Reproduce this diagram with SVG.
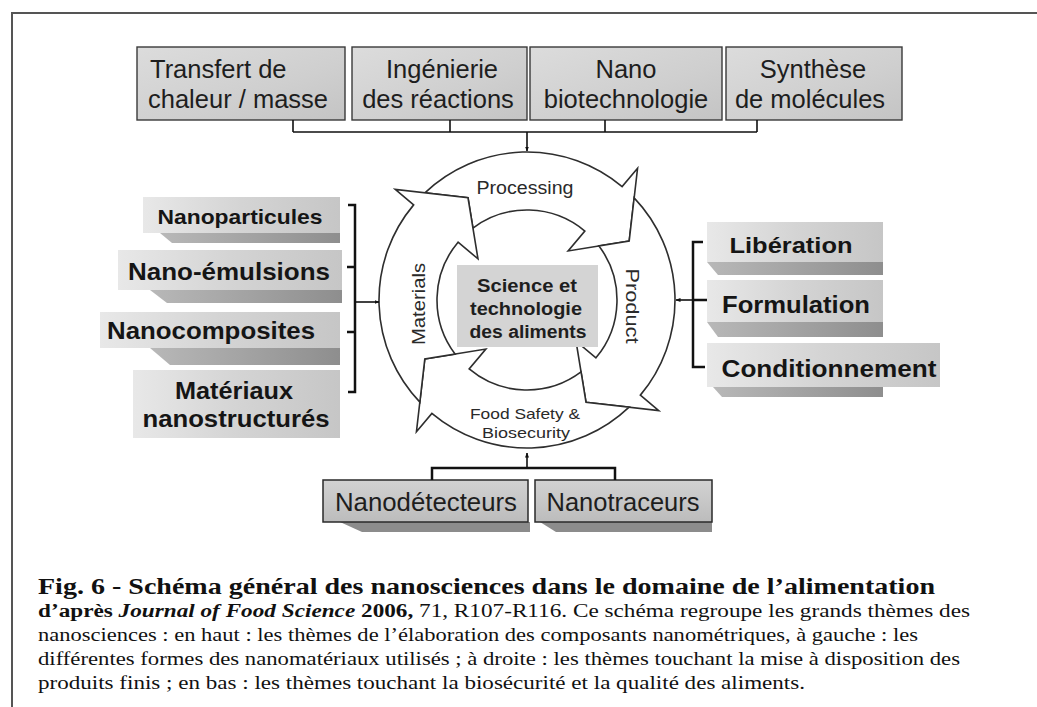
<svg xmlns="http://www.w3.org/2000/svg" width="1037" height="707" viewBox="0 0 1037 707">
<style>
.bg{fill:#ffffff}
.frame{fill:none;stroke:#555;stroke-width:2}
.topbox{fill:url(#gTop);stroke:#3a3a3a;stroke-width:1.4}
.tt{font-family:"Liberation Sans",Arial,sans-serif;font-size:25.5px;fill:#1e1e1e}
.side{fill:url(#gSide)}
.band{fill:url(#gBand)}
.st{font-family:"Liberation Sans",Arial,sans-serif;font-weight:bold;font-size:21px;fill:#151515}
.botbox{fill:url(#gBot);stroke:#2a2a2a;stroke-width:1.5}
.bshadow{fill:#8c8c8c}
.bt{font-family:"Liberation Sans",Arial,sans-serif;font-size:25px;fill:#1e1e1e}
.ring{fill:#ffffff;stroke:#2e2e2e;stroke-width:1.6;stroke-linejoin:miter}
.rl{font-family:"Liberation Sans",Arial,sans-serif;font-size:18px;fill:#2a2a2a}
.ct{font-family:"Liberation Sans",Arial,sans-serif;font-weight:bold;font-size:18px;fill:#1e1e1e}
.conn{fill:none;stroke:#111;stroke-width:2.5}
.thin{fill:none;stroke:#111;stroke-width:1.6}
.cap{font-family:"Liberation Serif","Times New Roman",serif;fill:#111}
</style>
<defs>
<linearGradient id="gTop" x1="0" y1="0" x2="1" y2="1">
<stop offset="0" stop-color="#dcdcdc"/><stop offset="0.6" stop-color="#cfcfcf"/><stop offset="1" stop-color="#c4c4c4"/>
</linearGradient>
<linearGradient id="gSide" x1="0" y1="0" x2="1" y2="0">
<stop offset="0" stop-color="#e8e8e8"/><stop offset="0.5" stop-color="#d4d4d4"/><stop offset="1" stop-color="#c6c6c6"/>
</linearGradient>
<linearGradient id="gBand" x1="0" y1="0" x2="1" y2="0">
<stop offset="0" stop-color="#b8b8b8"/><stop offset="1" stop-color="#8e8e8e"/>
</linearGradient>
<linearGradient id="gBot" x1="0" y1="0" x2="0" y2="1">
<stop offset="0" stop-color="#d2d2d2"/><stop offset="1" stop-color="#bcbcbc"/>
</linearGradient>
<marker id="ah" viewBox="0 0 10 10" refX="9" refY="5" markerWidth="5" markerHeight="5" orient="auto" markerUnits="userSpaceOnUse">
<path d="M0,1 L10,5 L0,9 Z" fill="#111"/>
</marker>
</defs>
<rect class="bg" x="0" y="0" width="1037" height="707"/>
<path class="frame" d="M1037,13 H12 V707"/>

<g id="top-transfert"><rect class="topbox" x="137" y="47" width="208" height="73"/><text class="tt" x="150" y="78">Transfert de</text><text class="tt" x="148" y="108">chaleur / masse</text></g>
<g id="top-ingenierie"><rect class="topbox" x="352" y="47" width="175" height="73"/><text class="tt" x="442" y="78" text-anchor="middle">Ingénierie</text><text class="tt" x="438" y="108" text-anchor="middle">des réactions</text></g>
<g id="top-nano"><rect class="topbox" x="530" y="47" width="192" height="73"/><text class="tt" x="626" y="78" text-anchor="middle">Nano</text><text class="tt" x="626" y="108" text-anchor="middle">biotechnologie</text></g>
<g id="top-synthese"><rect class="topbox" x="726" y="47" width="176" height="73"/><text class="tt" x="813" y="78" text-anchor="middle">Synthèse</text><text class="tt" x="810" y="108" text-anchor="middle">de molécules</text></g>

<g id="left-nanoparticules"><rect class="side" x="143" y="197" width="197" height="36"/><polygon class="band" points="160,233 340,233 340,243 172,243"/><text class="st" x="240" y="224" text-anchor="middle" textLength="165" lengthAdjust="spacingAndGlyphs">Nanoparticules</text></g>
<g id="left-nanoemulsions"><rect class="side" x="118" y="250" width="224" height="40"/><polygon class="band" points="150,290 342,290 342,303 167,303"/><text class="st" x="229" y="280" text-anchor="middle" textLength="202" lengthAdjust="spacingAndGlyphs" style="font-size:23px">Nano-émulsions</text></g>
<g id="left-nanocomposites"><rect class="side" x="100" y="312" width="240" height="36"/><polygon class="band" points="150,348 340,348 340,365 170,365"/><text class="st" x="211" y="339" text-anchor="middle" textLength="208" lengthAdjust="spacingAndGlyphs" style="font-size:23px">Nanocomposites</text></g>
<g id="left-materiaux"><rect class="side" x="133" y="370" width="207" height="68"/><text class="st" x="234" y="399" text-anchor="middle" textLength="118" lengthAdjust="spacingAndGlyphs" style="font-size:23px">Matériaux</text><text class="st" x="236" y="427" text-anchor="middle" textLength="187" lengthAdjust="spacingAndGlyphs" style="font-size:23px">nanostructurés</text></g>

<g id="right-liberation"><rect class="side" x="707" y="222" width="176" height="40"/><polygon class="band" points="707,262 883,262 883,275 718,275"/><text class="st" x="791" y="253" text-anchor="middle" textLength="123" lengthAdjust="spacingAndGlyphs" style="font-size:22px">Libération</text></g>
<g id="right-formulation"><rect class="side" x="707" y="280" width="176" height="42"/><polygon class="band" points="707,322 883,322 883,337 718,337"/><text class="st" x="796" y="313" text-anchor="middle" textLength="148" lengthAdjust="spacingAndGlyphs" style="font-size:23px">Formulation</text></g>
<g id="right-conditionnement"><rect class="side" x="707" y="343" width="233" height="44"/><polygon class="band" points="713,387 883,387 883,397 722,397"/><text class="st" x="829" y="377" text-anchor="middle" textLength="215" lengthAdjust="spacingAndGlyphs" style="font-size:23px">Conditionnement</text></g>

<g id="bottom-nanodetecteurs"><polygon class="bshadow" points="340,522 530,522 530,532 362,532"/><rect class="botbox" x="323" y="480" width="205" height="42"/><text class="bt" x="426" y="511" text-anchor="middle" textLength="182" lengthAdjust="spacingAndGlyphs">Nanodétecteurs</text></g>
<g id="bottom-nanotraceurs"><polygon class="bshadow" points="540,522 712,522 712,532 556,532"/><rect class="botbox" x="535" y="480" width="177" height="42"/><text class="bt" x="623" y="511" text-anchor="middle" textLength="153" lengthAdjust="spacingAndGlyphs">Nanotraceurs</text></g>

<g id="cycle">
<g id="arrow-processing"><path class="ring" d="M424.89,192.86 A148,148 0 0 1 622.13,186.63 L637.56,168.25 L629.19,241 L568.14,250.98 L584.85,231.06 A90,90 0 0 0 472.95,228.04 L468,197.81 Z"/><text class="rl" x="525" y="194" text-anchor="middle" textLength="97" lengthAdjust="spacingAndGlyphs">Processing</text></g>
<g id="arrow-product"><path class="ring" d="M634.14,197.89 A148,148 0 0 1 640.37,395.13 L658.75,410.56 L586,402.19 L576.02,341.14 L595.94,357.85 A90,90 0 0 0 598.96,245.95 L629.19,241 Z"/><text class="rl" transform="translate(626,306) rotate(90)" text-anchor="middle" textLength="75" lengthAdjust="spacingAndGlyphs" style="font-size:19px">Product</text></g>
<g id="arrow-foodsafety"><path class="ring" d="M629.11,407.14 A148,148 0 0 1 431.87,413.37 L416.44,431.75 L424.81,359 L485.86,349.02 L469.15,368.94 A90,90 0 0 0 581.05,371.96 L586,402.19 Z"/><text class="rl" x="525" y="419" text-anchor="middle" textLength="110" lengthAdjust="spacingAndGlyphs" style="font-size:15px">Food Safety &amp;</text><text class="rl" x="526" y="438" text-anchor="middle" textLength="88" lengthAdjust="spacingAndGlyphs" style="font-size:15px">Biosecurity</text></g>
<g id="arrow-materials"><path class="ring" d="M419.86,402.11 A148,148 0 0 1 413.63,204.87 L395.25,189.44 L468,197.81 L477.98,258.86 L458.06,242.15 A90,90 0 0 0 455.04,354.05 L424.81,359 Z"/><text class="rl" transform="translate(425,304) rotate(-90)" text-anchor="middle" textLength="82" lengthAdjust="spacingAndGlyphs" style="font-size:19px">Materials</text></g>
</g>

<g id="center-science"><rect x="457" y="265" width="141" height="82" fill="#d4d4d4"/><text class="ct" x="527" y="292" text-anchor="middle" textLength="100" lengthAdjust="spacingAndGlyphs">Science et</text><text class="ct" x="526" y="315" text-anchor="middle" textLength="112" lengthAdjust="spacingAndGlyphs">technologie</text><text class="ct" x="528" y="338" text-anchor="middle" textLength="117" lengthAdjust="spacingAndGlyphs">des aliments</text></g>

<g id="connectors">
<path class="thin" d="M293,120 V132 M450,120 V132 M605,120 V132 M757,120 V132 M293,132 H757"/>
<path class="thin" d="M527,132 V151" marker-end="url(#ah)"/>
<path class="conn" d="M348,205 H355 V392 H348 M347,267 H355 M347,332 H355"/>
<path class="thin" d="M355,302 H379" marker-end="url(#ah)"/>
<path class="conn" d="M703,242 H693 V367 H705 M693,300 H707"/>
<path class="thin" d="M693,300 H676" marker-end="url(#ah)"/>
<path class="conn" d="M432,480 V468 H615 V480"/>
<path class="thin" d="M527,468 V453" marker-end="url(#ah)"/>
</g>

<g id="caption">
<text class="cap" x="38" y="594" font-weight="bold" font-size="24" textLength="897" lengthAdjust="spacingAndGlyphs">Fig. 6 - Schéma général des nanosciences dans le domaine de l’alimentation</text>
<text class="cap" x="38" y="617" font-size="18" textLength="932" lengthAdjust="spacingAndGlyphs"><tspan font-weight="bold">d’après </tspan><tspan font-weight="bold" font-style="italic">Journal of Food Science</tspan><tspan font-weight="bold"> 2006,</tspan> 71, R107-R116. Ce schéma  regroupe les grands thèmes des</text>
<text class="cap" x="38" y="641" font-size="18" textLength="880" lengthAdjust="spacingAndGlyphs">nanosciences : en haut : les thèmes de l’élaboration des composants nanométriques, à gauche : les</text>
<text class="cap" x="38" y="665" font-size="18" textLength="922" lengthAdjust="spacingAndGlyphs">différentes formes des nanomatériaux utilisés ; à droite : les thèmes touchant la mise à disposition des</text>
<text class="cap" x="38" y="689" font-size="18" textLength="767" lengthAdjust="spacingAndGlyphs">produits finis ; en bas : les thèmes touchant la biosécurité et la qualité des aliments.</text>
</g>
</svg>
